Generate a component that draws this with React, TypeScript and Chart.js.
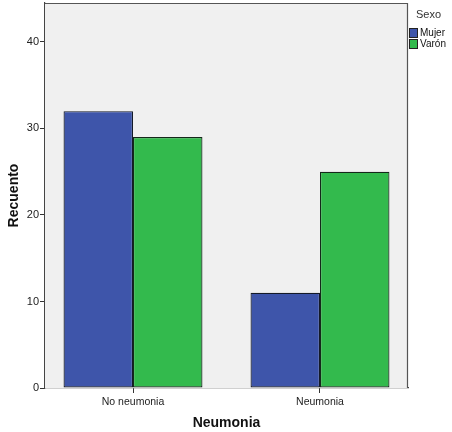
import React, { useEffect, useRef } from "react";
import { Chart, registerables } from "chart.js";

Chart.register(...registerables);

const categories = ["No neumonia", "Neumonia"];
const seriesNames = ["Mujer", "Varón"];
const mujer = [32, 11];
const varon = [29, 25];
const yTicks = [0, 10, 20, 30, 40];
const legendTitle = "Sexo";
const xTitle = "Neumonia";
const yTitle = "Recuento";

const BLUE = "#3E55AA";
const GREEN = "#33BA4D";
const FONT = "'Liberation Sans', Arial, sans-serif";

const plotFrame = {
  id: "plotFrame",
  beforeDatasetsDraw(chart: any) {
    const { ctx, chartArea: a } = chart;
    ctx.save();
    ctx.fillStyle = "#F0F0F0";
    ctx.fillRect(a.left, a.top, a.right - a.left, a.bottom - a.top);
    ctx.restore();
  },
  afterDatasetsDraw(chart: any) {
    const { ctx, chartArea: a } = chart;
    ctx.save();
    ctx.strokeStyle = "#555";
    ctx.lineWidth = 1.2;
    ctx.beginPath();
    ctx.moveTo(a.left, a.top + 0.5);
    ctx.lineTo(a.right - 0.5, a.top + 0.5);
    ctx.lineTo(a.right - 0.5, a.bottom);
    ctx.stroke();
    ctx.restore();
  },
  afterDraw(chart: any) {
    const { ctx } = chart;
    ctx.save();
    ctx.fillStyle = "#333";
    ctx.font = `11px ${FONT}`;
    ctx.textBaseline = "middle";
    ctx.textAlign = "left";
    ctx.fillText(legendTitle, 416, 15);
    ctx.font = `10px ${FONT}`;
    chart.data.datasets.forEach((ds: any, i: number) => {
      const y = 33 + i * 11;
      ctx.fillStyle = ds.backgroundColor;
      ctx.fillRect(409.5, y - 4.5, 8, 9);
      ctx.strokeStyle = "#222";
      ctx.lineWidth = 1;
      ctx.strokeRect(409.5, y - 4.5, 8, 9);
      ctx.fillStyle = "#111";
      ctx.fillText(ds.label, 420, y);
    });
    ctx.restore();
  },
};

export default function App() {
  const ref = useRef<HTMLCanvasElement>(null);
  useEffect(() => {
    document.body.style.margin = "0";
    const chart = new Chart(ref.current!, {
      type: "bar",
      data: {
        datasets: [
          {
            label: seriesNames[0],
            data: mujer.map((v, i) => ({ x: i, y: v })),
            backgroundColor: BLUE,
            borderColor: "#141A28",
            borderWidth: 1.2,
            borderSkipped: false,
            categoryPercentage: 0.743,
            barPercentage: 1,
          },
          {
            label: seriesNames[1],
            data: varon.map((v, i) => ({ x: i, y: v })),
            backgroundColor: GREEN,
            borderColor: "#14281A",
            borderWidth: 1.2,
            borderSkipped: false,
            categoryPercentage: 0.743,
            barPercentage: 1,
          },
        ],
      },
      options: {
        animation: false,
        responsive: false,
        devicePixelRatio: 1,
        layout: { padding: { top: 3, right: 44, left: 0, bottom: 0 } },
        plugins: {
          legend: { display: false },
          tooltip: { enabled: false },
        },
        scales: {
          x: {
            type: "linear",
            offset: false,
            min: -0.4706,
            max: 1.4706,
            afterBuildTicks(scale: any) {
              scale.ticks = categories.map((_, i) => ({ value: i }));
            },
            grid: {
              offset: false,
              drawOnChartArea: false,
              drawTicks: true,
              tickLength: 5,
              color: "#333",
            },
            border: { display: true, color: "#444", width: 1.2 },
            ticks: {
              color: "#222",
              font: { family: FONT, size: 10.5 },
              padding: 3,
              callback: (v: any) => categories[v as number] ?? "",
            },
            title: {
              display: true,
              text: xTitle,
              color: "#111",
              font: { family: FONT, size: 14, weight: "bold" },
              padding: { top: 8, bottom: 0 },
            },
            afterFit(scale: any) {
              scale.height = 44;
              scale.paddingLeft = 0;
              scale.paddingRight = 0;
            },
          },
          y: {
            min: 0,
            max: 44.5,
            afterBuildTicks(scale: any) {
              scale.ticks = yTicks.map((v) => ({ value: v }));
            },
            grid: {
              drawOnChartArea: false,
              drawTicks: true,
              tickLength: 5,
              color: "#333",
            },
            border: { display: true, color: "#444", width: 1.2 },
            ticks: {
              color: "#222",
              font: { family: FONT, size: 11 },
              padding: 1,
            },
            title: {
              display: true,
              text: yTitle,
              color: "#111",
              font: { family: FONT, size: 14, weight: "bold" },
              padding: { top: 6, bottom: 0 },
            },
            afterFit(scale: any) {
              scale.width = 45;
              scale.paddingTop = 0;
              scale.paddingBottom = 0;
            },
          },
        },
      },
      plugins: [plotFrame],
    });
    return () => chart.destroy();
  }, []);
  return (
    <div style={{ width: 452, height: 432, background: "#fff" }}>
      <canvas ref={ref} width={452} height={432} style={{ display: "block" }} />
    </div>
  );
}
